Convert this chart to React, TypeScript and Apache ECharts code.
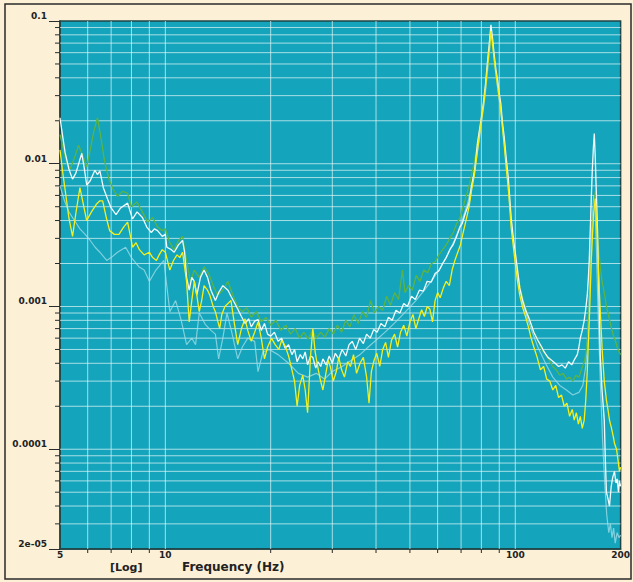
import React, { useEffect, useRef } from "react";
import * as echarts from "echarts";

// Axis extents (log-log spectrum)
const X_MIN = 5;
const X_MAX = 200;
const Y_MIN = 2e-5;
const Y_MAX = 0.1;

// Minor grid positions
const xGridLines = [6, 7, 8, 9, 10, 20, 30, 40, 50, 60, 70, 80, 90, 100];
const yGridLines = [
  3e-5, 4e-5, 5e-5, 6e-5, 7e-5, 8e-5, 9e-5, 1e-4,
  2e-4, 3e-4, 4e-4, 5e-4, 6e-4, 7e-4, 8e-4, 9e-4, 1e-3,
  2e-3, 3e-3, 4e-3, 5e-3, 6e-3, 7e-3, 8e-3, 9e-3, 1e-2,
  2e-2, 3e-2, 4e-2, 5e-2, 6e-2, 7e-2, 8e-2, 9e-2,
];
const xDecades = [10, 100];
const yDecades = [1e-4, 1e-3, 1e-2];

// Measured spectra: [frequency Hz, amplitude]
const paleTrace: [number, number][] = [
  [5.0, 0.007], [5.15, 0.0055], [5.3, 0.0046], [5.5, 0.004], [5.7, 0.0035], [5.9, 0.0032],
  [6.1, 0.0029], [6.3, 0.0026], [6.5, 0.0024], [6.8, 0.0021], [7.0, 0.0022], [7.3, 0.0024],
  [7.7, 0.0026], [8.0, 0.0022], [8.4, 0.0019], [8.7, 0.0018], [9.0, 0.0015], [9.4, 0.0018],
  [9.9, 0.0021], [10.3, 0.00092], [10.7, 0.0011], [11.1, 0.0008], [11.5, 0.00054], [11.9, 0.0006],
  [12.2, 0.00054], [12.5, 0.0009], [13.0, 0.00075], [13.5, 0.00068], [13.9, 0.00064], [14.2, 0.00043],
  [14.6, 0.0006], [15.0, 0.0009], [15.5, 0.00065], [16.1, 0.00043], [16.6, 0.00052], [17.2, 0.0006],
  [18.0, 0.00057], [18.4, 0.00035], [19.0, 0.00048], [19.8, 0.0005], [21.0, 0.00046], [22.5, 0.0004],
  [24.0, 0.00034], [25.5, 0.00032], [27.0, 0.00034], [28.5, 0.00031], [30.0, 0.00035], [32.0, 0.00038],
  [34.0, 0.00042], [36.0, 0.00046], [38.0, 0.00052], [40.0, 0.00058], [43.0, 0.00068], [46.0, 0.0008],
  [49.0, 0.00094], [52.0, 0.0011], [55.0, 0.0013], [58.0, 0.00155], [61.0, 0.00185], [64.0, 0.0023],
  [67.0, 0.0029], [70.0, 0.0038], [73.0, 0.0052], [76.0, 0.008], [79.0, 0.015], [82.0, 0.03],
  [84.3, 0.06], [85.2, 0.08], [86.5, 0.062], [88.0, 0.042], [90.0, 0.028], [92.0, 0.018],
  [94.2, 0.01], [96.4, 0.0052], [98.6, 0.0029], [101.5, 0.0017], [105.0, 0.00105], [110.0, 0.00074],
  [116.0, 0.00052], [122.0, 0.0004], [128.0, 0.00032], [134.0, 0.00028], [140.0, 0.00026], [146.0, 0.00024],
  [152.0, 0.00025], [156.0, 0.00028], [159.0, 0.00038], [161.5, 0.0007], [163.5, 0.0016], [165.5, 0.0035],
  [167.5, 0.006], [169.0, 0.005], [170.5, 0.0026], [172.5, 0.0009], [175.0, 0.0003], [177.5, 0.00012],
  [180.0, 0.00006], [182.5, 0.000035], [185.0, 0.000026], [187.0, 0.00003], [189.0, 0.000024], [191.0, 0.000028],
  [193.0, 0.000022], [195.5, 0.000026], [198.0, 0.000024], [200.0, 0.000025],
];

const greenTrace: [number, number][] = [
  [5.0, 0.016], [5.1, 0.013], [5.2, 0.0105], [5.35, 0.0092], [5.5, 0.011], [5.65, 0.0135],
  [5.8, 0.0115], [5.96, 0.0095], [6.1, 0.0125], [6.25, 0.017], [6.4, 0.021], [6.55, 0.015],
  [6.7, 0.0105], [6.9, 0.0078], [7.1, 0.0066], [7.3, 0.0059], [7.55, 0.0064], [7.8, 0.0062],
  [8.0, 0.005], [8.3, 0.0054], [8.6, 0.0046], [8.9, 0.0039], [9.2, 0.0042], [9.5, 0.0036],
  [9.8, 0.0034], [10.0, 0.0035], [10.3, 0.0028], [10.6, 0.0025], [10.9, 0.0029], [11.2, 0.0031],
  [11.5, 0.0021], [11.8, 0.0015], [12.1, 0.0018], [12.5, 0.0016], [12.9, 0.0019], [13.3, 0.0017],
  [13.7, 0.0014], [14.1, 0.0012], [14.6, 0.0013], [15.1, 0.0015], [15.6, 0.0012], [16.1, 0.001],
  [16.6, 0.00092], [17.1, 0.00098], [17.6, 0.00084], [18.2, 0.00092], [18.8, 0.00078], [19.4, 0.00084],
  [20.0, 0.00074], [20.7, 0.0008], [21.4, 0.00068], [22.1, 0.00074], [22.8, 0.00064], [23.5, 0.0007],
  [24.2, 0.0006], [24.9, 0.00066], [25.6, 0.00059], [26.3, 0.00068], [27.0, 0.0006], [27.8, 0.00066],
  [28.6, 0.00061], [29.4, 0.0007], [30.2, 0.00064], [31.0, 0.00074], [31.9, 0.00066], [32.8, 0.0008],
  [33.7, 0.00072], [34.6, 0.00088], [35.6, 0.00076], [36.6, 0.00092], [37.6, 0.00084], [38.6, 0.0011],
  [39.6, 0.0009], [40.7, 0.001], [41.8, 0.00094], [42.9, 0.00118], [44.0, 0.00102], [45.2, 0.00125],
  [46.4, 0.00112], [47.6, 0.0018], [48.4, 0.00125], [49.6, 0.0014], [50.8, 0.0013], [52.1, 0.00165],
  [53.4, 0.0015], [54.8, 0.0018], [56.2, 0.00172], [57.6, 0.002], [59.0, 0.00205], [60.5, 0.0023],
  [62.0, 0.0025], [63.5, 0.0027], [65.0, 0.003], [66.5, 0.0033], [68.0, 0.0038], [69.5, 0.0042],
  [71.0, 0.005], [72.5, 0.006], [74.0, 0.0072], [75.5, 0.009], [77.0, 0.0115], [78.5, 0.0155],
  [80.0, 0.021], [81.5, 0.029], [82.8, 0.04], [84.0, 0.056], [85.0, 0.076], [86.0, 0.068],
  [87.0, 0.054], [88.0, 0.043], [89.1, 0.035], [90.0, 0.03], [90.9, 0.025], [92.0, 0.0185],
  [93.0, 0.0145], [94.2, 0.0105], [95.5, 0.0076], [96.4, 0.0056], [97.3, 0.0041], [98.6, 0.003],
  [100.0, 0.00235], [101.5, 0.0018], [103.0, 0.0014], [105.0, 0.00115], [107.0, 0.00098], [110.0, 0.0008],
  [113.0, 0.00066], [116.0, 0.00058], [119.0, 0.0005], [122.0, 0.00046], [125.0, 0.00042], [128.0, 0.00038],
  [131.0, 0.00036], [134.0, 0.00033], [137.0, 0.00034], [140.0, 0.00031], [143.0, 0.00032], [146.0, 0.0003],
  [149.0, 0.00033], [152.0, 0.00032], [154.5, 0.00036], [157.0, 0.0004], [159.0, 0.00046], [160.6, 0.00056],
  [162.0, 0.0008], [163.4, 0.0012], [164.8, 0.002], [166.2, 0.0033], [167.6, 0.0048], [169.3, 0.0064],
  [170.6, 0.005], [171.8, 0.0036], [173.0, 0.0026], [174.9, 0.0019], [177.0, 0.0015], [179.6, 0.00125],
  [182.2, 0.001], [184.5, 0.00088], [186.5, 0.00078], [188.4, 0.0007], [190.9, 0.00062], [193.0, 0.00058],
  [195.5, 0.00052], [198.0, 0.00048], [200.0, 0.00046],
];

const whiteTrace: [number, number][] = [
  [5.0, 0.021], [5.08, 0.016], [5.17, 0.012], [5.3, 0.0092], [5.43, 0.0078], [5.55, 0.0086],
  [5.68, 0.0104], [5.77, 0.0118], [5.87, 0.0092], [5.96, 0.0071], [6.1, 0.0076], [6.29, 0.009],
  [6.4, 0.0084], [6.5, 0.0089], [6.65, 0.0068], [6.85, 0.0056], [7.0, 0.0049], [7.23, 0.0044],
  [7.45, 0.0049], [7.8, 0.0053], [8.06, 0.0041], [8.3, 0.0046], [8.6, 0.0042], [8.85, 0.0036],
  [9.12, 0.0033], [9.3, 0.0035], [9.5, 0.0034], [9.8, 0.0031], [10.0, 0.0032], [10.1, 0.0026],
  [10.4, 0.0025], [10.6, 0.0024], [10.9, 0.0027], [11.2, 0.0029], [11.35, 0.0024], [11.5, 0.0016],
  [11.7, 0.0013], [11.9, 0.0016], [12.1, 0.0015], [12.3, 0.0012], [12.6, 0.0016], [12.9, 0.0018],
  [13.2, 0.0016], [13.5, 0.0013], [13.9, 0.0011], [14.2, 0.00125], [14.6, 0.0014], [15.1, 0.0013],
  [15.4, 0.00118], [15.8, 0.00105], [16.1, 0.00096], [16.5, 0.00085], [16.9, 0.00076], [17.3, 0.00082],
  [17.6, 0.00072], [18.0, 0.00079], [18.4, 0.00081], [18.8, 0.00068], [19.2, 0.00076], [19.6, 0.00064],
  [20.0, 0.00062], [20.5, 0.00066], [21.0, 0.00057], [21.5, 0.0006], [22.0, 0.00051], [22.5, 0.00054],
  [23.0, 0.00046], [23.4, 0.0005], [23.8, 0.00041], [24.3, 0.00046], [24.7, 0.00043], [25.1, 0.00048],
  [25.5, 0.00039], [26.0, 0.00045], [26.4, 0.00044], [26.9, 0.00037], [27.3, 0.00041], [27.8, 0.00038],
  [28.2, 0.00043], [28.8, 0.00039], [29.4, 0.00045], [30.0, 0.0004], [30.6, 0.00047], [31.3, 0.00043],
  [32.0, 0.0005], [32.8, 0.00045], [33.5, 0.00054], [34.2, 0.00057], [35.0, 0.0005], [35.9, 0.0006],
  [36.8, 0.00055], [37.6, 0.00064], [38.5, 0.0006], [39.4, 0.00069], [40.3, 0.00066], [41.3, 0.00076],
  [42.4, 0.00072], [43.4, 0.00084], [44.5, 0.0008], [45.6, 0.00094], [46.8, 0.0009], [48.0, 0.00105],
  [49.2, 0.001], [50.5, 0.00118], [51.8, 0.00112], [53.2, 0.0013], [54.6, 0.00128], [56.0, 0.0015],
  [57.5, 0.00148], [59.0, 0.0017], [60.5, 0.00178], [62.0, 0.002], [63.5, 0.0022], [65.0, 0.0025],
  [66.4, 0.0027], [68.0, 0.0031], [69.5, 0.0036], [70.5, 0.0038], [72.0, 0.0045], [73.8, 0.0053],
  [75.0, 0.007], [76.5, 0.009], [78.0, 0.014], [79.5, 0.019], [81.0, 0.026], [82.2, 0.036],
  [83.3, 0.052], [84.3, 0.07], [85.2, 0.094], [86.0, 0.078], [87.0, 0.059], [88.0, 0.046],
  [89.1, 0.038], [90.0, 0.031], [90.9, 0.0265], [92.0, 0.019], [93.0, 0.0153], [94.2, 0.011],
  [95.5, 0.008], [96.4, 0.0058], [97.3, 0.0042], [98.6, 0.0031], [100.0, 0.0024], [101.5, 0.0018],
  [103.0, 0.00135], [105.0, 0.0011], [107.0, 0.00095], [110.0, 0.0008], [113.0, 0.00066], [116.0, 0.00058],
  [119.0, 0.00052], [121.0, 0.00048], [124.0, 0.00044], [127.0, 0.00042], [130.0, 0.0004], [133.0, 0.00038],
  [136.0, 0.00039], [139.0, 0.00037], [142.0, 0.00041], [145.0, 0.00039], [148.0, 0.00043], [150.4, 0.00046],
  [152.0, 0.00052], [153.4, 0.0006], [155.4, 0.00068], [157.4, 0.0008], [159.0, 0.00096], [160.6, 0.0012],
  [161.8, 0.0016], [162.7, 0.0021], [164.0, 0.0038], [165.0, 0.006], [166.0, 0.009], [167.2, 0.013],
  [168.2, 0.0163], [169.3, 0.011], [170.4, 0.0065], [171.5, 0.004], [173.0, 0.0016], [174.9, 0.00046],
  [177.0, 0.00026], [179.6, 0.00016], [181.0, 0.00008], [182.2, 0.00005], [184.0, 0.000045], [185.9, 0.00004],
  [188.0, 0.000055], [190.0, 0.000064], [192.1, 0.00007], [194.0, 0.000058], [195.5, 0.000062], [197.2, 0.00005],
  [198.5, 0.00006], [200.0, 0.000055],
];

const yellowTrace: [number, number][] = [
  [5.0, 0.0125], [5.08, 0.009], [5.17, 0.0066], [5.3, 0.0042], [5.43, 0.0031], [5.55, 0.0045],
  [5.7, 0.0068], [5.83, 0.0052], [5.96, 0.004], [6.15, 0.0046], [6.35, 0.0052], [6.5, 0.0055],
  [6.62, 0.0055], [6.78, 0.0042], [6.93, 0.0034], [7.15, 0.0032], [7.37, 0.0032], [7.6, 0.0036],
  [7.8, 0.0039], [7.95, 0.0031], [8.06, 0.0026], [8.25, 0.0028], [8.43, 0.0025], [8.7, 0.0023],
  [9.0, 0.0024], [9.2, 0.0022], [9.43, 0.0021], [9.6, 0.0023], [9.8, 0.0025], [10.0, 0.0024],
  [10.3, 0.0018], [10.55, 0.0021], [10.8, 0.0023], [11.0, 0.0022], [11.2, 0.0024], [11.5, 0.0015],
  [11.7, 0.00078], [11.9, 0.0011], [12.1, 0.0015], [12.3, 0.0012], [12.5, 0.00092], [12.7, 0.0011],
  [12.9, 0.0014], [13.2, 0.0013], [13.4, 0.0012], [13.7, 0.001], [13.9, 0.00092], [14.1, 0.0008],
  [14.3, 0.0007], [14.5, 0.00088], [14.8, 0.001], [15.1, 0.00105], [15.4, 0.0011], [15.7, 0.0008],
  [16.1, 0.00054], [16.5, 0.0007], [16.9, 0.00082], [17.2, 0.00068], [17.6, 0.00057], [18.0, 0.00066],
  [18.4, 0.00078], [18.8, 0.0006], [19.2, 0.00043], [19.6, 0.00052], [20.1, 0.0006], [20.6, 0.00054],
  [21.1, 0.0005], [21.5, 0.00058], [22.0, 0.00053], [22.5, 0.00045], [23.0, 0.00036], [23.4, 0.0003],
  [23.8, 0.0002], [24.2, 0.00028], [24.7, 0.00033], [25.1, 0.00026], [25.5, 0.00018], [26.0, 0.00045],
  [26.4, 0.0007], [26.8, 0.00048], [27.3, 0.00037], [27.7, 0.00031], [28.2, 0.00026], [28.7, 0.00033],
  [29.2, 0.00042], [29.6, 0.00038], [30.2, 0.0003], [30.8, 0.00035], [31.3, 0.00044], [31.9, 0.00036],
  [32.5, 0.00032], [33.2, 0.00041], [33.8, 0.00038], [34.5, 0.00046], [35.2, 0.00034], [36.0, 0.0004],
  [36.8, 0.00044], [37.6, 0.00032], [38.2, 0.00021], [38.8, 0.00035], [39.5, 0.00042], [40.2, 0.00047],
  [41.0, 0.00038], [41.8, 0.0005], [42.6, 0.00056], [43.4, 0.00044], [44.3, 0.00058], [45.2, 0.00064],
  [46.1, 0.00052], [47.0, 0.00066], [48.0, 0.00074], [49.0, 0.00062], [50.0, 0.00078], [51.0, 0.00088],
  [52.0, 0.0007], [53.0, 0.00082], [54.0, 0.00095], [55.0, 0.00085], [56.0, 0.001], [57.0, 0.00096],
  [58.0, 0.00078], [59.0, 0.0011], [60.0, 0.00125], [61.0, 0.00115], [62.3, 0.00135], [63.5, 0.0015],
  [64.8, 0.0014], [66.0, 0.0018], [67.2, 0.0021], [68.5, 0.0024], [69.7, 0.0027], [71.0, 0.0033],
  [72.3, 0.004], [73.8, 0.005], [75.0, 0.0065], [76.5, 0.0085], [78.0, 0.0125], [79.5, 0.018],
  [81.0, 0.025], [82.2, 0.034], [83.3, 0.048], [84.3, 0.064], [85.2, 0.085], [86.0, 0.072],
  [87.0, 0.055], [88.0, 0.044], [89.1, 0.035], [90.0, 0.029], [90.9, 0.024], [92.0, 0.0175],
  [93.0, 0.0135], [94.2, 0.0095], [95.5, 0.0068], [96.4, 0.005], [97.3, 0.0036], [98.6, 0.0027],
  [100.0, 0.002], [101.5, 0.0015], [103.0, 0.0012], [105.0, 0.00098], [107.0, 0.00085], [109.0, 0.00072],
  [111.0, 0.0006], [113.0, 0.00052], [115.5, 0.00044], [118.0, 0.00036], [120.5, 0.00038], [123.0, 0.00031],
  [125.5, 0.0003], [128.0, 0.00026], [130.5, 0.00028], [133.0, 0.00023], [135.5, 0.00024], [138.0, 0.0002],
  [140.5, 0.00021], [143.0, 0.00017], [145.5, 0.00019], [147.4, 0.00016], [149.5, 0.00018], [151.5, 0.00015],
  [153.4, 0.00017], [155.4, 0.00014], [157.4, 0.00016], [159.0, 0.00022], [160.6, 0.00035], [161.7, 0.00055],
  [162.7, 0.00078], [164.0, 0.0014], [165.0, 0.0022], [166.0, 0.003], [167.5, 0.0045], [169.3, 0.0057],
  [170.4, 0.0043], [171.5, 0.003], [172.6, 0.002], [173.8, 0.0013], [175.5, 0.0008], [177.3, 0.00048],
  [179.6, 0.0003], [182.2, 0.00022], [184.0, 0.00019], [185.9, 0.00016], [188.4, 0.00014], [190.9, 0.00012],
  [192.1, 0.00011], [194.7, 0.0001], [196.5, 0.000085], [198.5, 0.00007], [200.0, 0.000075],
];

const PLOT_BG = "#14a4bc";
const PAGE_BG = "#fcf0d7";
const GRID_COLOR = "rgba(225,246,246,0.72)";
const TICK_COLOR = "#2b2b2b";
const AXIS_COLOR = "#1f4447";
const LABEL_FONT = '"DejaVu Sans", Verdana, sans-serif';

const yLabel = (v: number): string => {
  const e = Math.log10(v);
  const r = Math.round(e);
  if (Math.abs(e - r) < 1e-6) return Math.pow(10, r).toFixed(Math.max(0, -r));
  return v.toExponential(0).replace(/e-(\d)$/, "e-0$1");
};

const xLabel = (v: number): string => String(Math.round(v));

export default function App() {
  const ref = useRef<HTMLDivElement>(null);

  useEffect(() => {
    document.body.style.margin = "0";
    if (!ref.current) return;
    const chart = echarts.init(ref.current, undefined, { renderer: "svg" });

    const lineSeries = (name: string, data: [number, number][], color: string, width: number, opacity = 1) => ({
      name,
      type: "line",
      data,
      showSymbol: false,
      symbol: "none",
      z: 3,
      lineStyle: { color, width, opacity },
      emphasis: { disabled: true },
    });

    const option: any = {
      animation: false,
      backgroundColor: PAGE_BG,
      grid: {
        show: true,
        left: 60,
        top: 21,
        width: 565,
        height: 528,
        backgroundColor: PLOT_BG,
        borderColor: AXIS_COLOR,
        borderWidth: 1.5,
      },
      xAxis: {
        type: "log",
        logBase: 10,
        min: X_MIN,
        max: X_MAX,
        splitLine: { show: false },
        axisTick: { show: false },
        axisLine: { show: true, lineStyle: { color: AXIS_COLOR, width: 1.5 } },
        axisLabel: {
          formatter: xLabel,
          fontFamily: LABEL_FONT,
          fontWeight: "bold",
          fontSize: 9,
          color: "#222",
          margin: 1,
          showMinLabel: true,
          showMaxLabel: true,
        },
      },
      yAxis: {
        type: "log",
        logBase: 10,
        min: Y_MIN,
        max: Y_MAX,
        splitLine: { show: false },
        axisTick: { show: true, length: 11, lineStyle: { color: TICK_COLOR, width: 1 } },
        axisLine: { show: true, lineStyle: { color: AXIS_COLOR, width: 1.5 } },
        axisLabel: {
          formatter: yLabel,
          fontFamily: LABEL_FONT,
          fontWeight: "bold",
          fontSize: 9,
          color: "#222",
          margin: 13,
          verticalAlign: "bottom",
          lineHeight: 10,
          showMinLabel: true,
          showMaxLabel: true,
        },
      },
      series: [
        {
          name: "vgrid",
          type: "custom",
          silent: true,
          z: 1,
          clip: false,
          data: xGridLines.map((f) => [f, 1e-3]),
          renderItem: (_p: any, api: any) => {
            const f = api.value(0);
            const top = api.coord([f, Y_MAX]);
            const bot = api.coord([f, Y_MIN]);
            const children: any[] = [
              {
                type: "line",
                shape: { x1: top[0], y1: top[1], x2: bot[0], y2: bot[1] },
                style: { stroke: GRID_COLOR, lineWidth: 1 },
              },
            ];
            if (!xDecades.includes(f)) {
              children.push({
                type: "line",
                shape: { x1: bot[0], y1: bot[1], x2: bot[0], y2: bot[1] + 4 },
                style: { stroke: TICK_COLOR, lineWidth: 1 },
              });
            }
            return { type: "group", children };
          },
        },
        {
          name: "hgrid",
          type: "custom",
          silent: true,
          z: 1,
          clip: false,
          data: yGridLines.map((v) => [10, v]),
          renderItem: (_p: any, api: any) => {
            const v = api.value(1);
            const l = api.coord([X_MIN, v]);
            const r = api.coord([X_MAX, v]);
            const children: any[] = [
              {
                type: "line",
                shape: { x1: l[0], y1: l[1], x2: r[0], y2: r[1] },
                style: { stroke: GRID_COLOR, lineWidth: 1 },
              },
            ];
            if (!yDecades.some((d) => Math.abs(d - v) / d < 1e-6)) {
              children.push({
                type: "line",
                shape: { x1: l[0] - 5, y1: l[1], x2: l[0], y2: l[1] },
                style: { stroke: TICK_COLOR, lineWidth: 1 },
              });
            }
            return { type: "group", children };
          },
        },
        lineSeries("ch4", paleTrace, "#a6dfe8", 1.2, 0.75),
        lineSeries("ch3", greenTrace, "#5ab444", 1.3),
        lineSeries("ch1", whiteTrace, "#f2fbfc", 1.3),
        lineSeries("ch2", yellowTrace, "#f4ef1e", 1.3),
      ],
      graphic: [
        {
          type: "rect",
          silent: true,
          shape: { x: 5, y: 4, width: 626, height: 575 },
          style: { fill: "none", stroke: "#2a2a2a", lineWidth: 1.5 },
        },
        {
          type: "text",
          x: 110,
          y: 567,
          style: {
            text: "[Log]",
            font: `bold 11px ${LABEL_FONT}`,
            fill: "#222",
            verticalAlign: "middle",
          },
        },
        {
          type: "text",
          x: 182,
          y: 567,
          style: {
            text: "Frequency (Hz)",
            font: `bold 12px ${LABEL_FONT}`,
            fill: "#222",
            verticalAlign: "middle",
          },
        },
      ],
    };

    chart.setOption(option);
    return () => chart.dispose();
  }, []);

  return <div ref={ref} style={{ width: 633, height: 582, background: PAGE_BG }} />;
}
